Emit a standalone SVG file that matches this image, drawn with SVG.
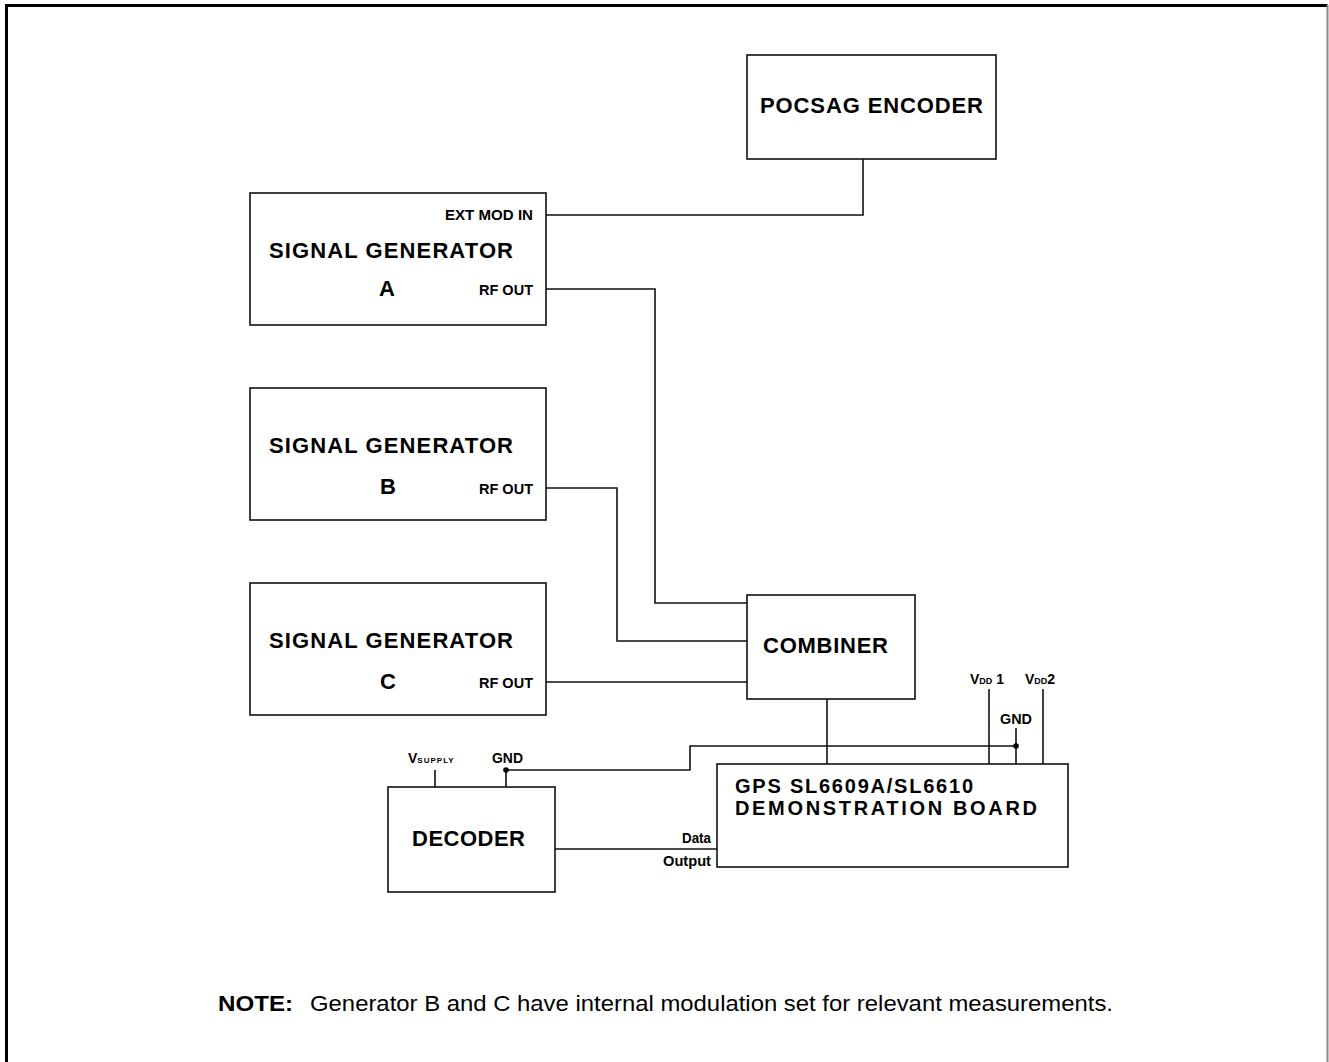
<svg xmlns="http://www.w3.org/2000/svg" width="1329" height="1062" viewBox="0 0 1329 1062">
<style>
.box{fill:#fff;stroke:#111;stroke-width:1.6}
.wire{fill:none;stroke:#111;stroke-width:1.6}
.big{font-family:"Liberation Sans",Arial,sans-serif;font-weight:bold;font-size:22px;fill:#000}
.mid{font-family:"Liberation Sans",Arial,sans-serif;font-weight:bold;font-size:20px;fill:#000}
.sm{font-family:"Liberation Sans",Arial,sans-serif;font-weight:bold;font-size:14px;fill:#000}
.note{font-family:"Liberation Sans",Arial,sans-serif;font-size:22px;fill:#000}
</style>
<rect x="0" y="0" width="1329" height="1062" fill="#fff"/>
<path d="M6.5 1062 V5.5 H1327.5" fill="none" stroke="#000" stroke-width="3"/>
<path d="M1327.5 5 V1062" stroke="#888" stroke-width="2"/>

<g id="connectors">
<path class="wire" d="M546 215 H863 V159"/>
<path class="wire" d="M546 289 H655 V603 H747"/>
<path class="wire" d="M546 488 H617 V641 H747"/>
<path class="wire" d="M546 682 H747"/>
<path class="wire" d="M827 699 V764"/>
<path class="wire" d="M989 689 V764"/>
<path class="wire" d="M1043 689 V764"/>
<path class="wire" d="M1016 728 V764"/>
<path class="wire" d="M1016 746 H690 V770 H506 V787"/>
<path class="wire" d="M435 770 V787"/>
<path class="wire" d="M555 849 H717"/>
<circle cx="1016" cy="746" r="2.8" fill="#000"/>
<circle cx="506" cy="770" r="2.8" fill="#000"/>
</g>

<g id="pocsag-encoder">
<rect class="box" x="747" y="55" width="249" height="104"/>
<text class="big" x="760" y="113" textLength="223" lengthAdjust="spacing">POCSAG ENCODER</text>
</g>

<g id="signal-generator-a">
<rect class="box" x="250" y="193" width="296" height="132"/>
<text class="sm" x="445" y="220" textLength="88" lengthAdjust="spacingAndGlyphs">EXT MOD IN</text>
<text class="big" x="269" y="258" textLength="244" lengthAdjust="spacing">SIGNAL GENERATOR</text>
<text class="big" x="379" y="296">A</text>
<text class="sm" x="479" y="295" textLength="54" lengthAdjust="spacingAndGlyphs">RF OUT</text>
</g>

<g id="signal-generator-b">
<rect class="box" x="250" y="388" width="296" height="132"/>
<text class="big" x="269" y="453" textLength="244" lengthAdjust="spacing">SIGNAL GENERATOR</text>
<text class="big" x="380" y="494">B</text>
<text class="sm" x="479" y="494" textLength="54" lengthAdjust="spacingAndGlyphs">RF OUT</text>
</g>

<g id="signal-generator-c">
<rect class="box" x="250" y="583" width="296" height="132"/>
<text class="big" x="269" y="648" textLength="244" lengthAdjust="spacing">SIGNAL GENERATOR</text>
<text class="big" x="380" y="689">C</text>
<text class="sm" x="479" y="688" textLength="54" lengthAdjust="spacingAndGlyphs">RF OUT</text>
</g>

<g id="combiner">
<rect class="box" x="747" y="595" width="168" height="104"/>
<text class="big" x="763" y="653" textLength="125" lengthAdjust="spacing">COMBINER</text>
</g>

<g id="demo-board">
<rect class="box" x="717" y="764" width="351" height="103"/>
<text class="mid" x="735" y="793" textLength="238" lengthAdjust="spacing">GPS SL6609A/SL6610</text>
<text class="mid" x="735" y="815" textLength="302" lengthAdjust="spacing">DEMONSTRATION BOARD</text>
<text class="sm" x="970" y="684">V<tspan font-size="9">DD</tspan> 1</text>
<text class="sm" x="1025" y="684">V<tspan font-size="9">DD</tspan>2</text>
<text class="sm" x="1000" y="724" textLength="32" lengthAdjust="spacingAndGlyphs">GND</text>
</g>

<g id="decoder">
<rect class="box" x="388" y="787" width="167" height="105"/>
<text class="big" x="412" y="846" textLength="113" lengthAdjust="spacing">DECODER</text>
<text class="sm" x="408" y="763">V<tspan font-size="8" letter-spacing="1">SUPPLY</tspan></text>
<text class="sm" x="492" y="763" textLength="31" lengthAdjust="spacingAndGlyphs">GND</text>
<text class="sm" x="711" y="843" text-anchor="end" textLength="29" lengthAdjust="spacingAndGlyphs">Data</text>
<text class="sm" x="711" y="866" text-anchor="end" textLength="48" lengthAdjust="spacingAndGlyphs">Output</text>
</g>

<g id="note">
<text class="note" x="218" y="1011" font-weight="bold" textLength="75" lengthAdjust="spacingAndGlyphs">NOTE:</text>
<text class="note" x="310" y="1011" textLength="803" lengthAdjust="spacingAndGlyphs">Generator B and C have internal modulation set for relevant measurements.</text>
</g>
</svg>
